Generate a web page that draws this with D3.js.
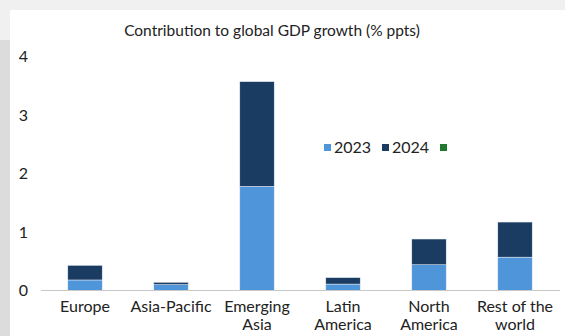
<!DOCTYPE html>
<html>
<head>
<meta charset="utf-8">
<script src="https://cdn.jsdelivr.net/npm/d3@7"></script>
<style>
  body { margin: 0; background: #fff; }
  svg { display: block; font-family: Lato, "Noto Sans", sans-serif; }
</style>
</head>
<body>
<div id="chart"></div>
<script>
// chart data
var categories = ["Europe", "Asia-Pacific", "Emerging Asia", "Latin America", "North America", "Rest of the world"];
var labelLines = [["Europe"], ["Asia-Pacific"], ["Emerging", "Asia"], ["Latin", "America"], ["North", "America"], ["Rest of the", "world"]];
var values2023 = [0.18, 0.10, 1.78, 0.11, 0.44, 0.57];
var values2024 = [0.25, 0.04, 1.79, 0.11, 0.44, 0.60];
var seriesNames = ["2023", "2024", ""];
var yTicks = [0, 1, 2, 3, 4];

var width = 565, height = 336;
var colors = ["#4f95da", "#1a3c63", "#1f7a30"];

var svg = d3.select("#chart")
    .append("svg")
    .attr("width", width)
    .attr("height", height);

/* page frame behind the chart */
svg.append("rect").attr("x", 0).attr("y", 0).attr("width", width).attr("height", height).attr("fill", "#f0f0f0");
svg.append("rect").attr("x", 0).attr("y", 40).attr("width", 10).attr("height", height - 40).attr("fill", "#dcdcdc");
svg.append("rect").attr("x", 10).attr("y", 10).attr("width", width - 10).attr("height", height - 10).attr("fill", "#fff");

svg.append("text")
    .attr("x", 272)
    .attr("y", 36)
    .attr("text-anchor", "middle")
    .attr("font-size", 15.5)
    .attr("fill", "#222")
    .text("Contribution to global GDP growth (% ppts)");

/* scales */
var xScale = d3.scaleBand()
    .domain(categories)
    .range([42, 558])
    .paddingInner(0.6)
    .paddingOuter(0.3);

var yScale = d3.scaleLinear()
    .domain([0, 4])
    .range([290.5, 56.5]);

/* stacked bars */
var rows = categories.map(function(c, i) {
    return { cat: c, y2023: values2023[i], y2024: values2024[i] };
});
var stacked = d3.stack().keys(["y2023", "y2024"])(rows);

svg.append("g")
    .selectAll("g")
    .data(stacked)
    .enter()
    .append("g")
    .attr("fill", function(d, i) { return colors[i]; })
    .selectAll("rect")
    .data(function(d) { return d; })
    .enter()
    .append("rect")
    .attr("x", function(d) { return xScale(d.data.cat); })
    .attr("y", function(d) { return yScale(d[1]); })
    .attr("width", xScale.bandwidth())
    .attr("height", function(d) { return yScale(d[0]) - yScale(d[1]); })
    .attr("stroke", "#e8eef5")
    .attr("stroke-width", 0.5);

/* y axis labels, no line */
var yAxis = d3.axisLeft(yScale).tickValues(yTicks).tickFormat(d3.format("d")).tickSize(0).tickPadding(0);
var yG = svg.append("g")
    .attr("transform", "translate(28,0)")
    .call(yAxis);
yG.select(".domain").remove();
yG.selectAll("text").attr("font-size", 16).attr("fill", "#222").attr("font-family", "Lato, sans-serif");

/* x axis */
var xAxis = d3.axisBottom(xScale).tickSize(0).tickFormat("");
var xG = svg.append("g")
    .attr("transform", "translate(0," + yScale(0) + ")")
    .call(xAxis);
xG.select(".domain").attr("stroke", "#c8c8c8").attr("d", "M41,0H560");

/* category labels, two lines where the reference wraps */
svg.append("g")
    .selectAll("text")
    .data(categories)
    .enter()
    .append("text")
    .attr("x", function(d) { return xScale(d) + xScale.bandwidth() / 2; })
    .attr("y", 312)
    .attr("text-anchor", "middle")
    .attr("font-size", 16)
    .attr("fill", "#222")
    .each(function(d, i) {
        var t = d3.select(this);
        labelLines[i].forEach(function(line, j) {
            t.append("tspan")
                .attr("x", xScale(d) + xScale.bandwidth() / 2)
                .attr("dy", j === 0 ? 0 : 18)
                .text(line);
        });
    });

/* legend */
var legendX = [324, 382, 440];
var legend = svg.append("g").selectAll("g")
    .data(seriesNames)
    .enter()
    .append("g")
    .attr("transform", function(d, i) { return "translate(" + legendX[i] + ",144)"; });
legend.append("rect")
    .attr("width", 7)
    .attr("height", 7)
    .attr("fill", function(d, i) { return colors[i]; });
legend.append("text")
    .attr("x", 10)
    .attr("y", 8.5)
    .attr("font-size", 16)
    .attr("fill", "#222")
    .text(function(d) { return d; });
</script>
</body>
</html>
